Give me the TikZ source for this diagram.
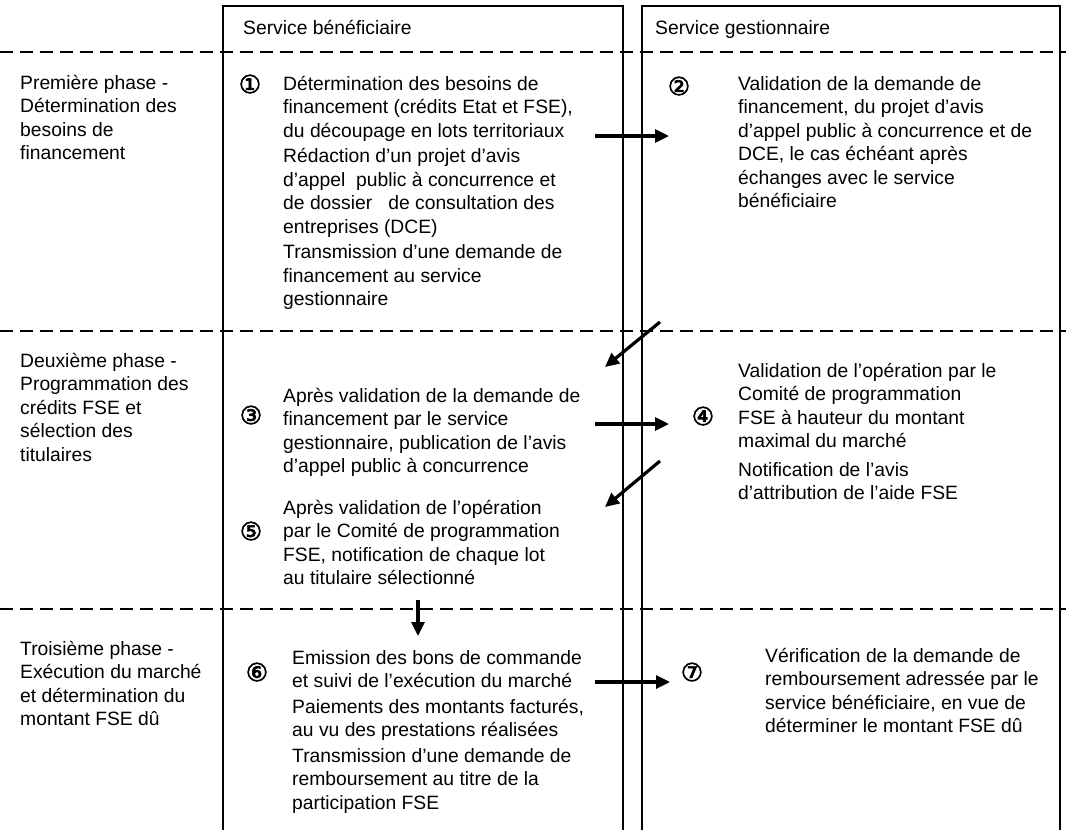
\documentclass[tikz,border=0pt]{standalone}
\usepackage{fontspec}
\setmainfont{Liberation Sans}
\newfontfamily\circfont[FakeBold=2.5]{DejaVu Sans}
\usetikzlibrary{arrows.meta}
\newcommand{\fstrut}{\rule{0pt}{20pt}}
\begin{document}
\begin{tikzpicture}[x=1pt,y=-1pt,
  frame/.style={line width=2pt},
  phaseline/.style={line width=2.4pt, dash pattern=on 13pt off 7pt},
  txt/.style={anchor=north west, inner sep=0pt, align=left, font=\fontsize{19.3}{23.5}\selectfont},
  num/.style={inner sep=0pt, font=\circfont\fontsize{25}{25}\selectfont},
  flow/.style={line width=3.2pt, -{Triangle[length=14pt,width=13pt]}}
]
\useasboundingbox (0,0) rectangle (1074,830);

% frames
\draw[frame] (223,830) -- (223,6) -- (623,6) -- (623,830);
\draw[frame] (642,830) -- (642,6) -- (1060,6) -- (1060,830);

% phase separators
\draw[phaseline] (0,52) -- (1066,52);
\draw[phaseline] (0,331) -- (1066,331);
\draw[phaseline] (0,609) -- (1066,609);

% headers
\node[txt] (h1) at (243,14) {\fstrut Service bénéficiaire};
\node[txt] (h2) at (655,14) {\fstrut Service gestionnaire};

% phase labels
\node[txt] (p1) at (20,69) {\fstrut Première phase -\\Détermination des\\besoins de\\financement};
\node[txt] (p2) at (20,347) {\fstrut Deuxième phase -\\Programmation des\\crédits FSE et\\sélection des\\titulaires};
\node[txt] (p3) at (20,635) {\fstrut Troisième phase -\\Exécution du marché\\et détermination du\\montant FSE dû};

% step texts
\node[txt] (l1) at (283,70) {\fstrut Détermination des besoins de\\financement (crédits Etat et FSE),\\du découpage en lots territoriaux\\[2pt]
Rédaction d’un projet d’avis\\d’appel\ \ public à concurrence et\\de dossier\ \ \ de consultation des\\entreprises (DCE)\\[2pt]
Transmission d’une demande de\\financement au service\\gestionnaire};
\node[txt] (r2) at (738,70) {\fstrut Validation de la demande de\\financement, du projet d’avis\\d’appel public à concurrence et de\\DCE, le cas échéant après\\échanges avec le service\\bénéficiaire};
\node[txt] (l3) at (283,382) {\fstrut Après validation de la demande de\\financement par le service\\gestionnaire, publication de l’avis\\d’appel public à concurrence};
\node[txt] (r4) at (738,357) {\fstrut Validation de l’opération par le\\Comité de programmation\\FSE à hauteur du montant\\maximal du marché\\[5pt]
Notification de l’avis\\d’attribution de l’aide FSE};
\node[txt] (l5) at (283,494) {\fstrut Après validation de l’opération\\par le Comité de programmation\\FSE, notification de chaque lot\\au titulaire sélectionné};
\node[txt] (l6) at (292,644) {\fstrut Emission des bons de commande\\et suivi de l’exécution du marché\\[2pt]
Paiements des montants facturés,\\au vu des prestations réalisées\\[2pt]
Transmission d’une demande de\\remboursement au titre de la\\participation FSE};
\node[txt] (r7) at (765,642) {\fstrut Vérification de la demande de\\remboursement adressée par le\\service bénéficiaire, en vue de\\déterminer le montant FSE dû};

% circled numbers
\node[num] (n1) at (250,84) {①};
\node[num] (n2) at (679,86) {②};
\node[num] (n3) at (251,415) {③};
\node[num] (n4) at (703,416) {④};
\node[num] (n5) at (251,531) {⑤};
\node[num] (n6) at (257,672) {⑥};
\node[num] (n7) at (692,672) {⑦};

% arrows
\coordinate (a1s) at (595,136); \coordinate (a1e) at (669,136);
\coordinate (a2s) at (660,322); \coordinate (a2e) at (605,367);
\coordinate (a3s) at (595,424); \coordinate (a3e) at (669,424);
\coordinate (a4s) at (660,461); \coordinate (a4e) at (605,507);
\coordinate (a5s) at (418,600); \coordinate (a5e) at (418,636);
\coordinate (a6s) at (595,682); \coordinate (a6e) at (670,682);
\draw[flow] (a1s) -- (a1e);
\draw[flow] (a2s) -- (a2e);
\draw[flow] (a3s) -- (a3e);
\draw[flow] (a4s) -- (a4e);
\draw[flow] (a5s) -- (a5e);
\draw[flow] (a6s) -- (a6e);
\end{tikzpicture}
\end{document}
